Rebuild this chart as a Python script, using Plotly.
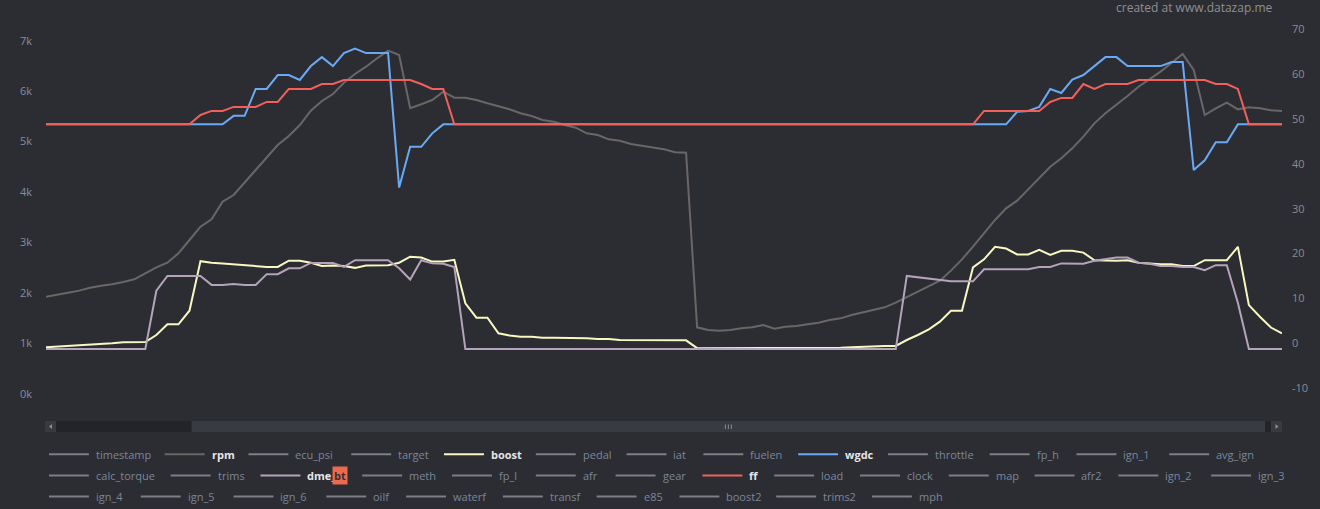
import plotly.graph_objects as go

# ---------------- data ----------------
sample = list(range(113))

rpm = [1928, 1962, 2008, 2048, 2107, 2146, 2173, 2219, 2273, 2391,
       2510, 2602, 2787, 3051, 3315, 3461, 3810, 3943, 4187, 4425,
       4683, 4934, 5112, 5330, 5613, 5805, 5944, 6168, 6340, 6485,
       6651, 6802, 6717, 5661, 5740, 5825, 5990, 5871, 5871, 5825,
       5760, 5706, 5641, 5562, 5508, 5429, 5396, 5330, 5277, 5165,
       5132, 5046, 5019, 4953, 4914, 4880, 4848, 4789, 4781, 1321,
       1268, 1255, 1268, 1301, 1321, 1367, 1294, 1334, 1347, 1380,
       1413, 1466, 1499, 1565, 1618, 1677, 1717, 1810, 1916, 2028,
       2127, 2246, 2444, 2668, 2919, 3183, 3448, 3679, 3831, 4055,
       4273, 4504, 4669, 4867, 5099, 5363, 5561, 5726, 5905, 6089,
       6235, 6387, 6565, 6737, 6420, 5528, 5661, 5772, 5640, 5680,
       5661, 5621, 5607]

boost = [-0.9, -0.77, -0.62, -0.55, -0.4, -0.18, -0.03, 0.19, 0.27, 0.27,
         1.83, 4.2, 4.2, 7.25, 18.3, 17.95, 17.8, 17.6, 17.4, 17.3,
         17.0, 17.0, 18.4, 18.4, 17.95, 17.2, 17.3, 17.2, 16.8, 17.3,
         17.3, 17.4, 17.95, 19.3, 19.1, 18.2, 18.2, 18.6, 8.9, 5.7,
         5.7, 2.2, 1.7, 1.45, 1.45, 1.2, 1.2, 1.2, 1.2, 1.08,
         0.93, 0.93, 0.71, 0.71, 0.71, 0.71, 0.71, 0.64, 0.64, -1.1,
         -1.1, -1.1, -1.1, -1.1, -1.1, -1.1, -1.1, -1.1, -1.1, -1.1,
         -1.1, -1.1, -1.0, -0.9, -0.77, -0.62, -0.62, -0.62, 0.71, 1.83,
         3.1, 4.8, 7.25, 7.25, 16.9, 18.7, 21.5, 21.1, 19.8, 19.8,
         20.8, 19.7, 20.6, 20.6, 20.2, 18.5, 18.4, 18.4, 18.5, 17.95,
         17.8, 17.6, 17.6, 17.2, 17.2, 18.5, 18.5, 18.5, 21.5, 8.5,
         5.9, 3.5, 2.2]

wgdc = [48.8, 48.8, 48.8, 48.8, 48.8, 48.8, 48.8, 48.8, 48.8, 48.8,
        48.8, 48.8, 48.8, 48.8, 48.8, 48.8, 48.8, 50.7, 50.7, 56.7,
        56.7, 59.8, 59.8, 58.7, 61.8, 63.8, 61.8, 64.7, 65.7, 64.7,
        64.7, 64.7, 34.7, 43.8, 43.8, 46.8, 48.8, 48.8, 48.8, 48.8,
        48.8, 48.8, 48.8, 48.8, 48.8, 48.8, 48.8, 48.8, 48.8, 48.8,
        48.8, 48.8, 48.8, 48.8, 48.8, 48.8, 48.8, 48.8, 48.8, 48.8,
        48.8, 48.8, 48.8, 48.8, 48.8, 48.8, 48.8, 48.8, 48.8, 48.8,
        48.8, 48.8, 48.8, 48.8, 48.8, 48.8, 48.8, 48.8, 48.8, 48.8,
        48.8, 48.8, 48.8, 48.8, 48.8, 48.8, 48.8, 48.8, 51.6, 51.8,
        52.7, 56.7, 55.8, 58.8, 59.8, 61.8, 63.8, 63.8, 61.8, 61.8,
        61.8, 61.8, 62.7, 62.7, 38.6, 40.8, 44.8, 44.8, 48.8, 48.8,
        48.8, 48.8, 48.8]

dme_bt = [-1.3, -1.3, -1.3, -1.3, -1.3, -1.3, -1.3, -1.3, -1.3, -1.3,
          11.7, 15.0, 15.0, 15.0, 15.0, 13.0, 13.0, 13.2, 13.0, 13.0,
          15.4, 15.4, 16.7, 16.7, 17.9, 17.9, 17.9, 17.0, 18.5, 18.5,
          18.5, 18.5, 16.7, 14.2, 18.5, 17.8, 17.7, 17.0, -1.3, -1.3,
          -1.3, -1.3, -1.3, -1.3, -1.3, -1.3, -1.3, -1.3, -1.3, -1.3,
          -1.3, -1.3, -1.3, -1.3, -1.3, -1.3, -1.3, -1.3, -1.3, -1.3,
          -1.3, -1.3, -1.3, -1.3, -1.3, -1.3, -1.3, -1.3, -1.3, -1.3,
          -1.3, -1.3, -1.3, -1.3, -1.3, -1.3, -1.3, -1.3, 15.0, 14.7,
          14.4, 14.0, 13.8, 13.8, 13.8, 16.5, 16.5, 16.5, 16.5, 16.5,
          17.0, 17.0, 17.8, 17.8, 17.7, 18.4, 18.7, 19.1, 19.1, 17.95,
          17.7, 17.2, 17.2, 17.0, 17.0, 16.3, 17.4, 17.4, 9.0, -1.3,
          -1.3, -1.3, -1.3]

ff = [48.8, 48.8, 48.8, 48.8, 48.8, 48.8, 48.8, 48.8, 48.8, 48.8,
      48.8, 48.8, 48.8, 48.8, 50.9, 51.8, 51.8, 52.7, 52.7, 52.7,
      53.8, 53.8, 56.7, 56.7, 56.7, 57.8, 57.8, 58.7, 58.7, 58.7,
      58.7, 58.7, 58.7, 58.7, 57.8, 56.7, 56.7, 48.8, 48.8, 48.8,
      48.8, 48.8, 48.8, 48.8, 48.8, 48.8, 48.8, 48.8, 48.8, 48.8,
      48.8, 48.8, 48.8, 48.8, 48.8, 48.8, 48.8, 48.8, 48.8, 48.8,
      48.8, 48.8, 48.8, 48.8, 48.8, 48.8, 48.8, 48.8, 48.8, 48.8,
      48.8, 48.8, 48.8, 48.8, 48.8, 48.8, 48.8, 48.8, 48.8, 48.8,
      48.8, 48.8, 48.8, 48.8, 48.8, 51.8, 51.8, 51.8, 51.8, 51.8,
      51.8, 53.8, 54.7, 54.7, 57.8, 56.7, 57.8, 57.8, 57.8, 58.7,
      58.7, 58.7, 58.7, 58.7, 58.7, 58.7, 57.8, 57.8, 56.7, 48.8,
      48.8, 48.8, 48.8]

left_ticks = [0, 1000, 2000, 3000, 4000, 5000, 6000, 7000]
left_labels = ["0k", "1k", "2k", "3k", "4k", "5k", "6k", "7k"]
right_ticks = [-10, 0, 10, 20, 30, 40, 50, 60, 70]
right_labels = ["-10", "0", "10", "20", "30", "40", "50", "60", "70"]

legend_rows = [
    ["timestamp", "rpm", "ecu_psi", "target", "boost", "pedal", "iat", "fuelen",
     "wgdc", "throttle", "fp_h", "ign_1", "avg_ign"],
    ["calc_torque", "trims", "dme_bt", "meth", "fp_l", "afr", "gear", "ff", "load",
     "clock", "map", "afr2", "ign_2", "ign_3"],
    ["ign_4", "ign_5", "ign_6", "oilf", "waterf", "transf", "e85", "boost2",
     "trims2", "mph"],
]

# ---------------- layout constants (pixels) ----------------
W, H = 1320, 509
L, R, T, B = 46, 1285, 20, 410
BG = "#2c2d33"
legend_x = [
    [49, 165, 249, 352, 445, 537, 628, 705, 800, 890, 992, 1079, 1172],
    [49, 171, 261, 363, 453, 537, 617, 704, 776, 862, 951, 1037, 1121, 1214],
    [49, 141, 234, 327, 407, 504, 598, 681, 778, 874],
]
legend_y = [454.3, 475.6, 496.6]

series_colors = {
    "rpm": "#6a6666",
    "boost": "#f8f8c2",
    "wgdc": "#6aa9f4",
    "dme_bt": "#b5a3ba",
    "ff": "#f1605a",
}
series_data = {"rpm": rpm, "boost": boost, "wgdc": wgdc, "dme_bt": dme_bt, "ff": ff}


def fx(px):
    return (px - L) / (R - L)


def fy(py):
    return (B - py) / (B - T)


fig = go.Figure()
for name in ["rpm", "boost", "wgdc", "dme_bt", "ff"]:
    fig.add_trace(go.Scatter(
        x=sample, y=series_data[name], name=name, mode="lines",
        line=dict(color=series_colors[name], width=2),
        yaxis="y" if name == "rpm" else "y2",
        showlegend=False,
    ))

# left axis pixel mapping: 0k at y=394, 7k at y=40.7
lpx0, lpx7 = 394.0, 40.7
lscale = (lpx0 - lpx7) / 7000.0
l_lo = (lpx0 - B) / lscale
l_hi = (lpx0 - T) / lscale
# right axis: 0 at y=343.2, 70 at y=29.3
rpx0, rpx70 = 343.2, 29.3
rscale = (rpx0 - rpx70) / 70.0
r_lo = (rpx0 - B) / rscale
r_hi = (rpx0 - T) / rscale

tickfont_l = dict(family="Open Sans", size=11, color="#838da0")
tickfont_r = dict(family="Open Sans", size=11, color="#8a8b90")

shapes = []
annotations = []

# scrollbar
shapes.append(dict(type="rect", xref="paper", yref="paper", x0=fx(45), x1=fx(1285),
                   y0=fy(432), y1=fy(421), fillcolor="#232428", line=dict(width=0), layer="above"))
shapes.append(dict(type="rect", xref="paper", yref="paper", x0=fx(45), x1=fx(56),
                   y0=fy(432), y1=fy(421), fillcolor="#393a40", line=dict(width=0), layer="above"))
shapes.append(dict(type="rect", xref="paper", yref="paper", x0=fx(1274), x1=fx(1285),
                   y0=fy(432), y1=fy(421), fillcolor="#393a40", line=dict(width=0), layer="above"))
shapes.append(dict(type="rect", xref="paper", yref="paper", x0=fx(192), x1=fx(1268),
                   y0=fy(432), y1=fy(421), fillcolor="#393b43", line=dict(width=0), layer="above"))
for gx in (727, 730, 733):
    shapes.append(dict(type="line", xref="paper", yref="paper", x0=fx(gx), x1=fx(gx),
                       y0=fy(429), y1=fy(424.5), line=dict(color="#8a8c92", width=1), layer="above"))
# arrows
shapes.append(dict(type="path", xref="paper", yref="paper",
                   path="M {},{} L {},{} L {},{} Z".format(fx(49), fy(426.5), fx(52), fy(424), fx(52), fy(429)),
                   fillcolor="#8a8c92", line=dict(width=0), layer="above"))
shapes.append(dict(type="path", xref="paper", yref="paper",
                   path="M {},{} L {},{} L {},{} Z".format(fx(1281.5), fy(426.5), fx(1278.5), fy(424), fx(1278.5), fy(429)),
                   fillcolor="#8a8c92", line=dict(width=0), layer="above"))

# legend (drawn manually)
for row, xs, ry in zip(legend_rows, legend_x, legend_y):
    for name, lx in zip(row, xs):
        active = name in series_colors
        lcol = series_colors[name] if active else "#7c7f86"
        shapes.append(dict(type="line", xref="paper", yref="paper", x0=fx(lx), x1=fx(lx + 40),
                           y0=fy(ry), y1=fy(ry), line=dict(color=lcol, width=2), layer="above"))
        tcol = "#e6e6e8" if active else "#7a869a"
        txt = "<b>" + name + "</b>" if active else name
        if name == "dme_bt":
            annotations.append(dict(text="<b>dme_</b>", xref="paper", yref="paper", x=fx(lx + 45), y=fy(ry),
                                    xanchor="left", yanchor="middle", showarrow=False,
                                    font=dict(family="Open Sans", size=11, color=tcol)))
            annotations.append(dict(text="<b>bt</b>", xref="paper", yref="paper", x=fx(332.5), y=fy(ry),
                                    xanchor="left", yanchor="middle", showarrow=False,
                                    bgcolor="#ee6a4f", borderpad=1,
                                    font=dict(family="Open Sans", size=11, color="#3a3030")))
        else:
            annotations.append(dict(text=txt, xref="paper", yref="paper", x=fx(lx + 45), y=fy(ry),
                                    xanchor="left", yanchor="middle", showarrow=False,
                                    font=dict(family="Open Sans", size=11, color=tcol)))

annotations.append(dict(text="created at www.datazap.me", xref="paper", yref="paper",
                        x=fx(1276), y=fy(7.5), xanchor="right", yanchor="middle", showarrow=False,
                        borderpad=0,
                        font=dict(family="Open Sans", size=12, color="#8f8f92")))

fig.update_layout(
    width=W, height=H,
    margin=dict(l=L, r=W - R, t=T, b=H - B, pad=0),
    paper_bgcolor=BG, plot_bgcolor=BG,
    showlegend=False,
    xaxis=dict(range=[0, 112], visible=False, showgrid=False, zeroline=False),
    yaxis=dict(range=[l_lo, l_hi], tickvals=left_ticks, ticktext=left_labels,
               showgrid=False, zeroline=False, showline=False, ticks="",
               tickfont=tickfont_l, ticklabelstandoff=13),
    yaxis2=dict(range=[r_lo, r_hi], tickvals=right_ticks, ticktext=right_labels,
                overlaying="y", side="right", showgrid=False, zeroline=False,
                showline=False, ticks="", tickfont=tickfont_r, ticklabelstandoff=9),
    shapes=shapes,
    annotations=annotations,
)

fig.write_html("out.html")
